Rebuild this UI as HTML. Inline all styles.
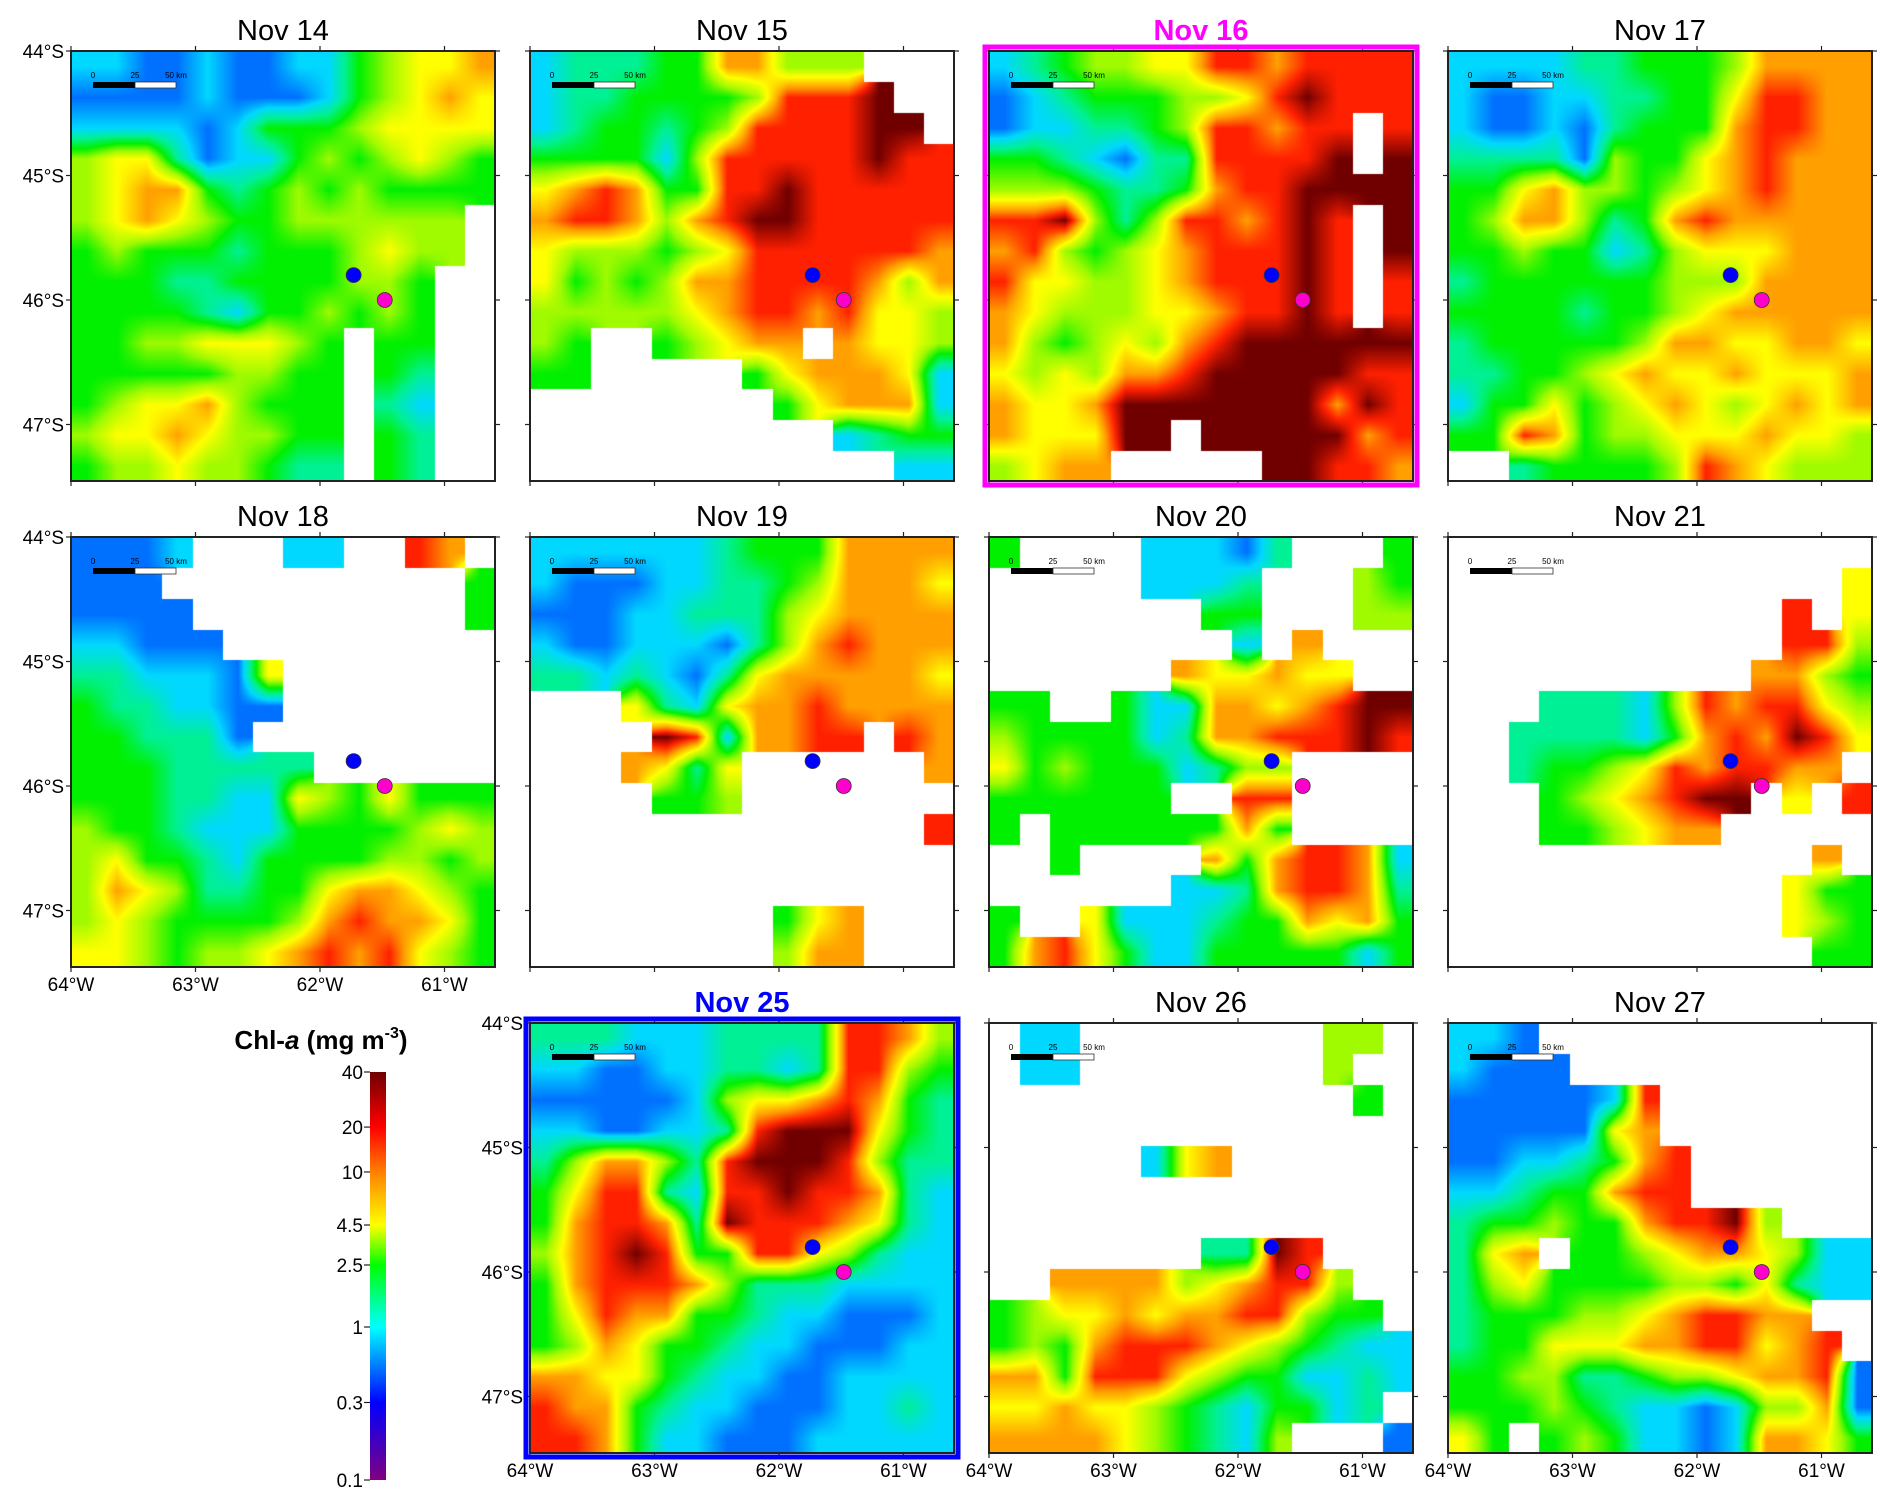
<!DOCTYPE html>
<html><head><meta charset="utf-8">
<style>
html,body{margin:0;padding:0;background:#fff;}
#root{position:relative;width:1892px;height:1496px;overflow:hidden;font-family:"Liberation Sans",sans-serif;}
canvas{position:absolute;}
svg{position:absolute;left:0;top:0;}
</style></head>
<body>
<div id="root">
<svg id="ov" width="1892" height="1496"></svg>
</div>
<script>
// ---- data: chlorophyll level codes per grid cell (0=low .. 9=high, '.'=no data) ----
const panelDays = ["Nov 14","Nov 15","Nov 16","Nov 17","Nov 18","Nov 19","Nov 20","Nov 21","Nov 25","Nov 26","Nov 27"];
const panelCols = [0,1,2,3,0,1,2,3,1,2,3];
const panelRows = [0,0,0,0,1,1,1,1,2,2,2];
const nov14 = ["22112112245667","11112111245676","22221244456666","56631224545654","56774345454444","5676544555555.","4544434445655.","444334444554..","444432445454..","445566654.44..","444445544.43..","456675444.32..","566765544.43..","455655433.43.."];
const nov15 = ["23334477555...","233444458889..","2344345888899.","44442588888988","67874488988888","78875789988888","65554568888887","64545778888757","55555678878665","54..45677.7665","44.....4677762","........467772","..........2344","............22"];
const nov16 = ["23455668878888","12344455689888","122334588788.8","443213388889.9","55543347889999","889535887898.9","785456788898.9","866556788898.8","765556678898.8","75456578999999","65657789999988","76679999999798","766699.9999978","5677.....99887"];
const nov17 = ["22223344457777","21122334468877","21121344478877","33331544678777","44675545678777","45775347877777","44544235666777","34444445557777","44443445677777","34444457766776","33445676676667","24464567656767","44874556667665","..344445876555"];
const nov18 = ["1112...22..87.","111..........4","1111.........4","22111.........","3322216.......","4332211.......","443331........","44433333......","44433226546444","54432224444565","56443244445545","57653344677654","56544445787764","66545567878654"];
const nov19 = ["22222234447777","21112233457776","11122333567777","21122213578777","33232136777776","...63267787777","....9827788.87","...7636......7","....445.......",".............8","..............","..............","........467...","........577..."];
const nov20 = ["4....22213...4",".....2223...54",".......44...55","........2.7...","......766766..","44..4227767899","54444237788898","6454442355....","444444..88....","4.44444474....","..4....7478872","......22378873","4..62223447674","47864224444424"];
const nov21 = ["..............",".............6","...........8.6","...........885","..........7754","...33325878865","..333324787986","..34456878877.","...4567899.6.8","...445677.....","............7.","...........644","...........654","............44"];
const nov25 = ["33322233338875","22112233238854","11111256678743","22112238999643","35775389998533","46883288988732","47887398887632","57898448865322","47888753332222","46877443221112","45764432211122","77664322112222","87743221112232","88742211122222"];
const nov26 = [".22........55.",".22........5..","............4.","..............",".....267......","..............","..............",".......3398...","..7777567885..","4566767788544.","45478887654322","77488865442232","6676654324423.","7777654325...1"];
const nov27 = ["221...........","2111..........","1111128.......","1111167.......","11223478......","22344788......","34454478895...","367.4456776522","35644445546322","34445567887 7..".replace(" ",""),"3446667788678.","44553345567781","44454322125571","64.45422127764"];
const grids = [nov14,nov15,nov16,nov17,nov18,nov19,nov20,nov21,nov25,nov26,nov27];
// station markers (deg W, deg S)
const stationLon = [61.73, 61.48];
const stationLat = [45.80, 46.00];
const stationColor = ["#0000ff","#ff00cc"];
// colorbar ticks
const cbTicks = ["40","20","10","4.5","2.5","1","0.3","0.1"];
const cbFrac = [0, 0.135, 0.245, 0.375, 0.473, 0.625, 0.81, 1];
const lonTicks = [64,63,62,61];
const latTicks = [44,45,46,47];
</script>
<script>
const NS="http://www.w3.org/2000/svg";
const ov=document.getElementById('ov');
const root=document.getElementById('root');
const colLeft=[71,530,989,1448], rowTop=[51,537,1023], PW=424, PH=430, DEG=124.5;
function xOf(left,w){return left+(64-w)*DEG;}
function yOf(top,s){return top+(s-44)*DEG;}
const stops=[[0,32,255],[0,112,255],[0,216,255],[0,240,150],[0,240,0],[160,250,0],[255,255,0],[255,160,0],[255,32,0],[112,0,0]];
function cmap(v){v=Math.max(0,Math.min(9,v));const i=Math.min(8,Math.floor(v)),f=v-i;const a=stops[i],b=stops[i+1];return [a[0]+(b[0]-a[0])*f,a[1]+(b[1]-a[1])*f,a[2]+(b[2]-a[2])*f];}
function el(tag,attrs,parent){const e=document.createElementNS(NS,tag);for(const k in attrs)e.setAttribute(k,attrs[k]);(parent||ov).appendChild(e);return e;}
function txt(s,attrs){const t=el('text',attrs);t.textContent=s;return t;}

grids.forEach((g,pi)=>{
  const L=colLeft[panelCols[pi]], T=rowTop[panelRows[pi]];
  const n=g.length, m=g[0].length;
  const cv=document.createElement('canvas');cv.width=PW;cv.height=PH;cv.style.left=L+'px';cv.style.top=T+'px';
  
  
  root.insertBefore(cv,ov);
  const ctx=cv.getContext('2d');const img=ctx.createImageData(PW,PH);const d=img.data;
  const cw=PW/m, ch=PH/n;
  function val(r,c){if(r<0||c<0||r>=n||c>=m)return null;const s=(g[r]||"")[c];if(s===undefined||s==='.')return null;return +s;}
  for(let py=0;py<PH;py++){for(let px=0;px<PW;px++){
    const idx=(py*PW+px)*4;
    const cr=Math.floor(py/ch), cc=Math.floor(px/cw);
    if(val(cr,cc)===null){d[idx]=d[idx+1]=d[idx+2]=255;d[idx+3]=255;continue;}
    const gx=px/cw-0.5, gy=py/ch-0.5;const c0=Math.floor(gx),r0=Math.floor(gy);const fx=gx-c0,fy=gy-r0;
    let sw=0,sv=0;
    [[r0,c0,(1-fx)*(1-fy)],[r0,c0+1,fx*(1-fy)],[r0+1,c0,(1-fx)*fy],[r0+1,c0+1,fx*fy]].forEach(q=>{const v=val(q[0],q[1]);if(v!==null){sw+=q[2];sv+=q[2]*v;}});
    const v=sw>0?sv/sw:val(cr,cc);const c=cmap(v);
    d[idx]=c[0];d[idx+1]=c[1];d[idx+2]=c[2];d[idx+3]=255;
  }}
  ctx.putImageData(img,0,0);
  const fr=el('rect',{x:L,y:T,width:PW,height:PH,fill:'none',stroke:'#222','stroke-width':2});
  
  
  lonTicks.forEach(w=>{const x=xOf(L,w);el('line',{x1:x,y1:T,x2:x,y2:T-5,stroke:'#222','stroke-width':1.2});el('line',{x1:x,y1:T+PH,x2:x,y2:T+PH+5,stroke:'#222','stroke-width':1.2});});
  latTicks.forEach(s=>{const y=yOf(T,s);el('line',{x1:L,y1:y,x2:L-5,y2:y,stroke:'#222','stroke-width':1.2});el('line',{x1:L+PW,y1:y,x2:L+PW+5,y2:y,stroke:'#222','stroke-width':1.2});});
  const sb=el('g',{});
  
  
  el('rect',{x:L+22,y:T+31,width:42,height:6,fill:'#000'},sb);
  el('rect',{x:L+64,y:T+31,width:41,height:6,fill:'#fff',stroke:'#333','stroke-width':0.8},sb);
  [['0',22],['25',64],['50 km',105]].forEach(a=>{const t=el('text',{x:L+a[1],y:T+27,'font-size':8,'text-anchor':'middle','font-family':'Liberation Sans'},sb);t.textContent=a[0];});
  stationLon.forEach((w,k)=>{const c=el('circle',{cx:xOf(L,w),cy:yOf(T,stationLat[k]),r:7.5,fill:stationColor[k],stroke:'#333','stroke-width':0.8});
    
    });
  const special = pi===2?'#ff00ff':(pi===8?'#0000ff':null);
  const tt=txt(panelDays[pi],{x:L+PW/2,y:T-11,'font-size':29,'text-anchor':'middle',fill:special||'#000','font-weight':special?'bold':'normal'});
  
  
  if(special){const b=el('rect',{x:L-4,y:T-4,width:PW+8,height:PH+8,fill:'none',stroke:special,'stroke-width':5});
    
    }
  if(panelCols[pi]===0 || pi===8){latTicks.forEach(s=>{const t=txt(s+'°S',{x:L-7,y:yOf(T,s)+7,'font-size':19,'text-anchor':'end'});
    
    });}
  if(pi===4 || panelRows[pi]===2){lonTicks.forEach(w=>{const t=txt(w+'°W',{x:xOf(L,w),y:T+PH+24,'font-size':19,'text-anchor':'middle'});
    
    });}
});

const cbX=370,cbY=1072,cbW=16,cbH=408;
const defs=el('defs',{});
const lg=el('linearGradient',{id:'cbg',x1:0,y1:0,x2:0,y2:1},defs);
const cbColors=['#700000','#ff0000','#ff8000','#ffff00','#00ff00','#00ffff','#0000ff','#800080'];
cbFrac.forEach((f,i)=>{el('stop',{offset:f,'stop-color':cbColors[i]},lg);});
const cb=el('rect',{x:cbX,y:cbY,width:cbW,height:cbH,fill:'url(#cbg)'});


cbTicks.forEach((s,i)=>{const y=cbY+cbFrac[i]*cbH;el('line',{x1:cbX-6,y1:y,x2:cbX,y2:y,stroke:'#222','stroke-width':1.2});
  const t=txt(s,{x:cbX-7,y:y+7,'font-size':19,'text-anchor':'end'});
  
  });
const ct=el('text',{x:321,y:1049,'font-size':26,'font-weight':'bold','text-anchor':'middle'});


ct.innerHTML='Chl-<tspan font-style="italic">a</tspan> (mg m<tspan font-size="16" dy="-11">-3</tspan><tspan dy="11">)</tspan>';
</script>
</body></html>
